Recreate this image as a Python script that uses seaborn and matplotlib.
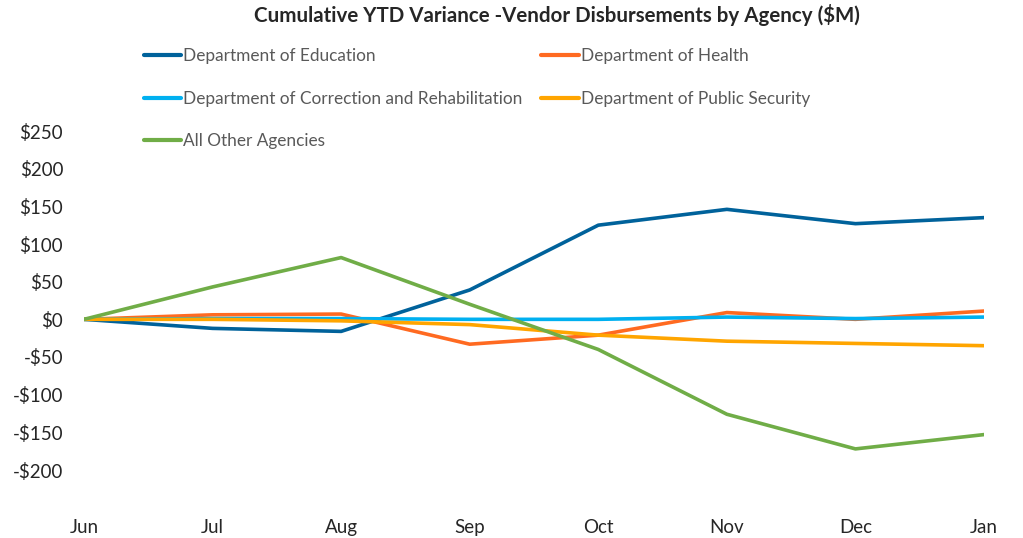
import pandas as pd
import matplotlib
matplotlib.use("Agg")
import matplotlib.pyplot as plt
import seaborn as sns

months = ["Jun", "Jul", "Aug", "Sep", "Oct", "Nov", "Dec", "Jan"]
agencies = [
    "Department of Education",
    "Department of Health",
    "Department of Correction and Rehabilitation",
    "Department of Public Security",
    "All Other Agencies",
]
education = [0, -12, -16, 39, 125, 146, 127, 135]
health = [0, 6, 7, -33, -21, 9, 0, 11]
correction = [0, 1, 1, 0, 0, 3, 1, 3]
public_security = [0, 0, -2, -7, -21, -29, -32, -35]
other = [0, 43, 82, 20, -40, -126, -172, -153]
colors = ["#00629B", "#FF6A21", "#00B0F0", "#FFA500", "#70AD47"]

series = [education, health, correction, public_security, other]
rows = []
for name, vals in zip(agencies, series):
    for i, v in enumerate(vals):
        rows.append({"Month": i, "Agency": name, "Variance": v})
df = pd.DataFrame(rows)

sns.set_style("white")
plt.rcParams["font.family"] = ["Lato", "DejaVu Sans"]

fig = plt.figure(figsize=(10.23, 5.38), dpi=100)
ax = fig.add_axes([84 / 1023, (538 - 470) / 538, 900 / 1023, 339 / 538])

sns.lineplot(data=df, x="Month", y="Variance", hue="Agency", hue_order=agencies,
             palette=colors, linewidth=2.6, ax=ax, legend=False)

ax.set_xlim(0, 7)
ax.set_ylim(-200, 250)
ax.set_yticks(range(-200, 251, 50))
ax.set_yticklabels([f"${v}" if v >= 0 else f"-${-v}" for v in range(-200, 251, 50)],
                   fontsize=13.5)
ax.set_xticks(range(8))
ax.set_xticklabels(months, fontsize=13.5)
ax.tick_params(axis="x", pad=35, length=0)
ax.tick_params(axis="y", pad=15, length=0)
ax.set_xlabel("")
ax.set_ylabel("")
for s in ax.spines.values():
    s.set_visible(False)

# legend fills column-wise, so reorder to read row-wise like the original
order = [0, 2, 4, 1, 3]
handles = [plt.Line2D([], [], color=colors[i], linewidth=3) for i in order]
labels = [agencies[i] for i in order]
fig.legend(handles, labels, loc="upper left", bbox_to_anchor=(128 / 1023, 1 - 33 / 538),
           ncol=2, frameon=False, fontsize=12.4, handlelength=2.2, handletextpad=0.1,
           columnspacing=1.1, labelspacing=1.52, labelcolor="#595959")

fig.suptitle("Cumulative YTD Variance -Vendor Disbursements by Agency ($M)",
             x=557 / 1023, y=1 - 4 / 538, fontsize=14.8, fontweight="bold", va="top")

fig.savefig("out.png", dpi=100)
